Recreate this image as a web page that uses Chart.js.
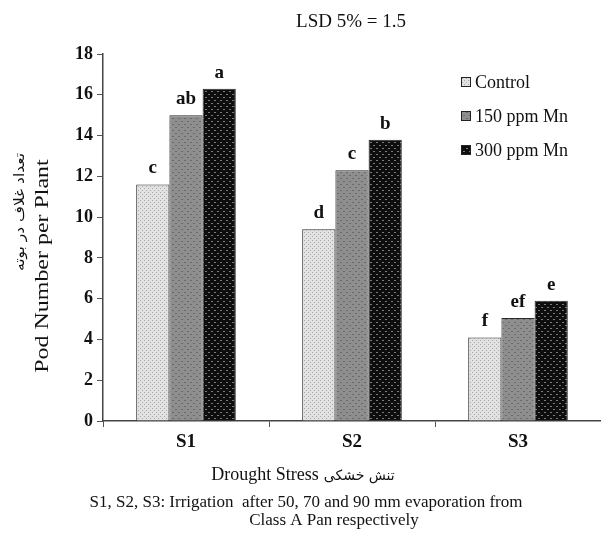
<!DOCTYPE html>
<html>
<head>
<meta charset="utf-8">
<script src="https://cdn.jsdelivr.net/npm/chart.js@4"></script>
<style>
  html, body { margin: 0; padding: 0; background: #fff; }
  #wrap { width: 601px; height: 535px; }
</style>
</head>
<body>
<div id="wrap"><canvas id="chart" width="601" height="535"></canvas></div>
<script>
// data
var stressLevels = ["S1", "S2", "S3"];
var seriesNames = ["Control", "150 ppm Mn", "300 ppm Mn"];
var controlVals = [11.6, 9.4, 4.1];
var mn150Vals = [15.0, 12.3, 5.05];
var mn300Vals = [16.3, 13.8, 5.9];
var letters = [
  ["c", "d", "f"],
  ["ab", "c", "ef"],
  ["a", "b", "e"]
];
var yTicks = [0, 2, 4, 6, 8, 10, 12, 14, 16, 18];

var serif = "'Liberation Serif', 'Times New Roman', serif";

// fill patterns like the original bars
function makePattern(bg, dot, size, dots) {
  var c = document.createElement("canvas");
  c.width = size;
  c.height = size;
  var g = c.getContext("2d");
  g.fillStyle = bg;
  g.fillRect(0, 0, size, size);
  g.fillStyle = dot;
  dots.forEach(function (d) { g.fillRect(d[0], d[1], d[2], d[3]); });
  return g.createPattern(c, "repeat");
}

var ctx = document.getElementById("chart").getContext("2d");
var patControl = makePattern("#e2e2e2", "#a8a8a8", 4, [[0, 0, 1, 1], [2, 2, 1, 1]]);
var pat150 = makePattern("#8e8e8e", "#6a6a6a", 6, [[1, 1, 2, 1], [4, 4, 2, 1]]);
var pat300 = makePattern("#0e0e0e", "#7a7a7a", 6, [[1, 1, 2, 1], [4, 4, 2, 1]]);
var patterns = [patControl, pat150, pat300];

// extra text: letters, legend, titles
var textPlugin = {
  id: "textPlugin",
  afterDraw: function (chart) {
    var c = chart.ctx;
    c.save();

    // letters over the bars
    c.fillStyle = "#111";
    c.font = "bold 19px " + serif;
    c.textAlign = "center";
    c.textBaseline = "alphabetic";
    chart.data.datasets.forEach(function (ds, i) {
      var meta = chart.getDatasetMeta(i);
      meta.data.forEach(function (bar, j) {
        c.fillText(letters[i][j], bar.x, bar.y - 11);
      });
    });

    // legend
    c.font = "18px " + serif;
    c.textAlign = "left";
    c.textBaseline = "middle";
    chart.data.datasets.forEach(function (ds, i) {
      var y = 82 + i * 34;
      c.fillStyle = ds.backgroundColor;
      c.fillRect(461, y - 5, 10, 10);
      c.strokeStyle = "#222";
      c.lineWidth = 1;
      c.strokeRect(461.5, y - 4.5, 9, 9);
      c.fillStyle = "#111";
      c.fillText(ds.label, 475, y + 1);
    });

    // top title
    c.textAlign = "center";
    c.font = "19px " + serif;
    c.fillText("LSD 5% = 1.5", 351, 22);

    // x title (english + persian side by side) and footnote
    c.textAlign = "left";
    c.font = "18px " + serif;
    var enW = c.measureText("Drought Stress").width;
    c.font = "14px 'DejaVu Sans', serif";
    var faW = c.measureText("تنش خشکی").width;
    var x0 = 303 - (enW + 5 + faW) / 2;
    c.font = "18px " + serif;
    c.fillText("Drought Stress", x0, 475);
    c.font = "14px 'DejaVu Sans', serif";
    c.fillText("تنش خشکی", x0 + enW + 5, 476);
    c.textAlign = "center";
    c.font = "17px " + serif;
    c.fillText("S1, S2, S3: Irrigation  after 50, 70 and 90 mm evaporation from", 306, 503);
    c.fillText("Class A Pan respectively", 334, 521);

    // y titles (rotated, stretched along the text like the original)
    c.save();
    c.translate(43, 266);
    c.rotate(-Math.PI / 2);
    c.scale(1.33, 1);
    c.font = "18px " + serif;
    c.fillText("Pod Number per Plant", 0, 0);
    c.restore();

    c.save();
    c.translate(20, 212);
    c.rotate(-Math.PI / 2);
    c.scale(1.1, 1);
    c.font = "14px 'DejaVu Sans', serif";
    c.fillText("تعداد غلاف در بوته", 0, 0);
    c.restore();

    c.restore();
  }
};

var chart = new Chart(ctx, {
  type: "bar",
  data: {
    labels: stressLevels,
    datasets: [
      { label: seriesNames[0], data: controlVals, backgroundColor: patterns[0] },
      { label: seriesNames[1], data: mn150Vals, backgroundColor: patterns[1] },
      { label: seriesNames[2], data: mn300Vals, backgroundColor: patterns[2] }
    ]
  },
  options: {
    responsive: false,
    animation: false,
    devicePixelRatio: 1,
    layout: { padding: { top: 54, right: 0, left: 0, bottom: 0 } },
    datasets: {
      bar: {
        categoryPercentage: 0.6,
        barPercentage: 1.0,
        borderColor: "#2a2a2a",
        borderWidth: 1
      }
    },
    plugins: {
      legend: { display: false },
      title: { display: false },
      tooltip: { enabled: false }
    },
    scales: {
      x: {
        afterFit: function (scale) { scale.height = 114; },
        grid: { display: true, drawOnChartArea: false, tickLength: 6, color: "#555", offset: true },
        border: { color: "#444", width: 1.5 },
        ticks: { color: "#111", font: { family: serif, size: 19, weight: "bold" }, padding: 4 }
      },
      y: {
        min: 0,
        max: 18,
        afterFit: function (scale) { scale.width = 103; },
        afterBuildTicks: function (scale) {
          scale.ticks = yTicks.map(function (v) { return { value: v }; });
        },
        grid: { display: true, drawOnChartArea: false, tickLength: 6, color: "#555" },
        border: { color: "#444", width: 1.5 },
        ticks: { color: "#111", font: { family: serif, size: 18, weight: "bold" }, padding: 4 }
      }
    }
  },
  plugins: [textPlugin]
});
</script>
</body>
</html>
